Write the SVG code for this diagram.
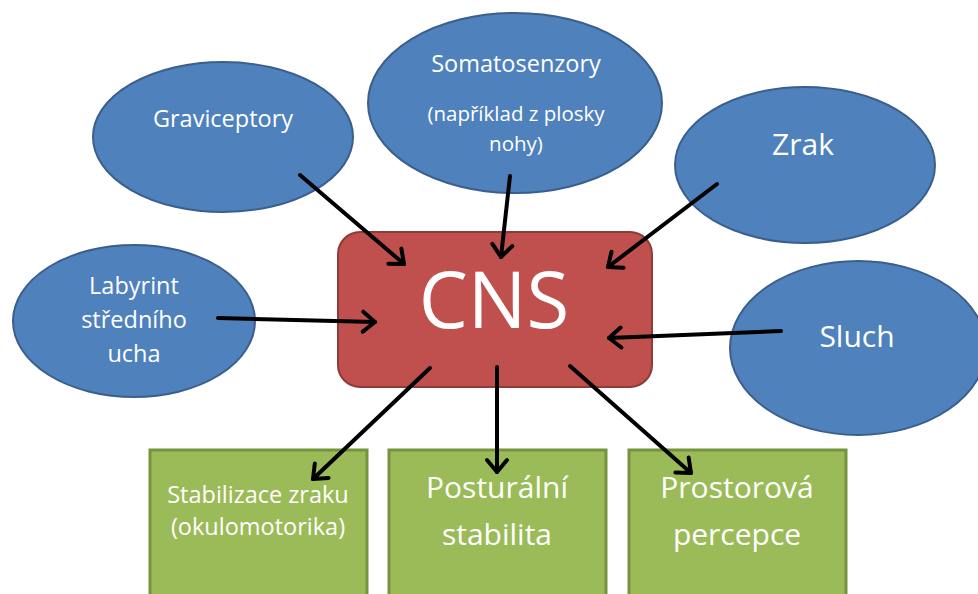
<svg xmlns="http://www.w3.org/2000/svg" width="978" height="594" viewBox="0 0 978 594">
<defs>
<style>
.ell{fill:#4F81BD;stroke:#3A5F8C;stroke-width:2}
.cns{fill:#C0504D;stroke:#8E3B39;stroke-width:2}
.grn{fill:#9BBB59;stroke:#77933C;stroke-width:3}
text{font-family:"Open Sans","Liberation Sans",sans-serif;fill:#FFFFFF;text-anchor:middle}
.s20{font-size:23.5px}
.s18{font-size:20.5px}
.s27{font-size:30px}
.conn line{stroke:#000;stroke-width:4;stroke-linecap:round;marker-end:url(#ah)}
</style>
<marker id="ah" viewBox="-16 -14 20 28" refX="0" refY="0" markerWidth="20" markerHeight="28" markerUnits="userSpaceOnUse" orient="auto" overflow="visible">
<path d="M-12,-10 L0,0 L-12,10" fill="none" stroke="#000" stroke-width="4" stroke-linecap="round" stroke-linejoin="round"/>
</marker>
</defs>
<rect width="978" height="594" fill="#FFFFFF"/>
<g id="graviceptory"><ellipse class="ell" cx="223" cy="137" rx="130" ry="75"/><text class="s20" x="223" y="127">Graviceptory</text></g>
<g id="somatosenzory"><ellipse class="ell" cx="515" cy="103" rx="147" ry="90"/><text class="s20" x="516" y="72">Somatosenzory</text><text class="s18" x="516" y="121">(například z plosky</text><text class="s18" x="516" y="151">nohy)</text></g>
<g id="zrak"><ellipse class="ell" cx="805" cy="165" rx="130" ry="78"/><text class="s27" x="803" y="155">Zrak</text></g>
<g id="labyrint"><ellipse class="ell" cx="134" cy="321" rx="121" ry="76"/><text class="s20" x="134" y="294">Labyrint</text><text class="s20" x="134" y="328">středního</text><text class="s20" x="134" y="362">ucha</text></g>
<g id="sluch"><ellipse class="ell" cx="858" cy="348" rx="128" ry="87"/><text class="s27" x="857" y="347">Sluch</text></g>
<g id="cns"><rect class="cns" x="338" y="232" width="314" height="155" rx="22"/><text x="494" y="328" style="font-size:78px">CNS</text></g>
<g id="stabilizace"><rect class="grn" x="150" y="450" width="217" height="150"/><text class="s20" x="258" y="503">Stabilizace zraku</text><text class="s20" x="258" y="535">(okulomotorika)</text></g>
<g id="posturalni"><rect class="grn" x="389" y="450" width="217" height="150"/><text class="s27" x="497" y="498">Posturální</text><text class="s27" x="497" y="545">stabilita</text></g>
<g id="prostorova"><rect class="grn" x="629" y="450" width="217" height="150"/><text class="s27" x="737" y="498">Prostorová</text><text class="s27" x="737" y="545">percepce</text></g>
<g class="conn" id="connectors">
<line x1="300" y1="175" x2="404" y2="264"/>
<line x1="510" y1="176" x2="501" y2="257"/>
<line x1="717" y1="184" x2="608" y2="267"/>
<line x1="218" y1="318" x2="375" y2="322"/>
<line x1="781" y1="331" x2="609" y2="338"/>
<line x1="430" y1="368" x2="313" y2="479"/>
<line x1="497" y1="367" x2="497" y2="472"/>
<line x1="570" y1="366" x2="691" y2="473"/>
</g>
</svg>
